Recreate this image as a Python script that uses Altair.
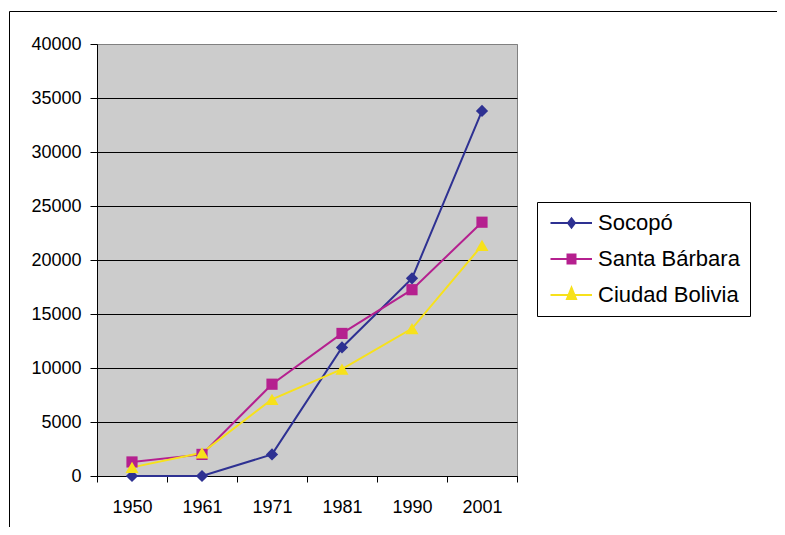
import altair as alt
import pandas as pd

years = ["1950", "1961", "1971", "1981", "1990", "2001"]
series = ["Socopó", "Santa Bárbara", "Ciudad Bolivia"]
socopo = [0, 0, 2000, 11900, 18300, 33800]
santa_barbara = [1300, 2000, 8500, 13200, 17250, 23500]
ciudad_bolivia = [800, 2150, 7100, 9900, 13650, 21350]
colors = ["#2E3192", "#B5208F", "#F7E11B"]
shapes = ["diamond", "square", "triangle-up"]
sizes = [150, 125, 170]
ytick_values = [0, 5000, 10000, 15000, 20000, 25000, 30000, 35000, 40000]

# legend symbols: line segment + marker (units of sqrt(size)/2 px)
legend_paths = [
    "M-1.5,-0.2H6.8V0.2H-1.5Z M2.7,-1.25L3.65,0L2.7,1.25L1.75,0Z",
    "M-1.5,-0.2H6.8V0.2H-1.5Z M1.7,-1.1H3.7V1.1H1.7Z",
    "M-1.5,-0.2H6.8V0.2H-1.5Z M2.7,-2L3.9,1L1.5,1Z",
]

rows = []
for name, vals in zip(series, [socopo, santa_barbara, ciudad_bolivia]):
    for yr, v in zip(years, vals):
        rows.append({"year": yr, "value": v, "series": name})
df = pd.DataFrame(rows)

FONT = "Liberation Sans"

x_enc = alt.X(
    "year:O",
    sort=years,
    scale=alt.Scale(type="band", paddingInner=0, paddingOuter=0),
    axis=alt.Axis(
        title=None, labelAngle=0, tickBand="extent", tickSize=6,
        labelFontSize=18, labelFont=FONT, labelColor="black",
        labelPadding=16, domainColor="black", tickColor="black", grid=False,
    ),
)
y_enc = alt.Y(
    "value:Q",
    scale=alt.Scale(domain=[0, 40000], nice=False),
    axis=alt.Axis(
        title=None, values=ytick_values, format="d", tickSize=7,
        labelFontSize=18, labelFont=FONT, labelColor="black", labelPadding=9,
        domainColor="black", tickColor="black",
        gridColor={"condition": {"test": "datum.value === 40000", "value": "#808080"}, "value": "black"},
        gridWidth=1,
    ),
)
color_scale = alt.Scale(domain=series, range=colors)

base = alt.Chart(df)

leg = alt.Legend(
    title=None, orient="none", legendX=440, legendY=158,
    labelFontSize=22, labelFont=FONT, labelColor="black",
    symbolSize=100, labelOffset=29, rowPadding=14, padding=10,
    strokeColor="black", fillColor="white", symbolStrokeWidth=0,
)
legend_layer = base.transform_filter("false").mark_point(filled=True, opacity=1).encode(
    x=x_enc, y=y_enc,
    color=alt.Color("series:N", scale=color_scale, legend=leg),
    shape=alt.Shape("series:N", scale=alt.Scale(domain=series, range=legend_paths), legend=leg),
)

lines = base.mark_line(strokeWidth=2).encode(
    x=x_enc, y=y_enc,
    color=alt.Color("series:N", scale=color_scale, legend=None),
    detail="series:N",
)

point_layers = []
for name, shp, sz in zip(series, shapes, sizes):
    point_layers.append(
        base.transform_filter(alt.datum.series == name)
        .mark_point(filled=True, shape=shp, size=sz, opacity=1)
        .encode(
            x=x_enc, y=y_enc,
            color=alt.Color("series:N", scale=color_scale, legend=None),
        )
    )

frame_df = pd.DataFrame({"f": [0]})
frame_v = alt.Chart(frame_df).mark_rule(color="black", strokeWidth=1).encode(
    x=alt.value(-87.5), y=alt.value(-32.5), y2=alt.value(495)
)
frame_h = alt.Chart(frame_df).mark_rule(color="black", strokeWidth=1).encode(
    x=alt.value(-87.5), x2=alt.value(720), y=alt.value(-32.5)
)

chart = alt.layer(legend_layer, frame_v, frame_h, lines, *point_layers).properties(
    width=420,
    height=432,
    padding={"left": 89, "top": 36, "right": 260, "bottom": 51},
    autosize=alt.AutoSizeParams(type="none"),
    background="white",
).configure_view(
    fill="#cccccc", stroke="#808080", strokeWidth=1
)

chart.save("out.html", embed_options={"renderer": "svg", "actions": False})
